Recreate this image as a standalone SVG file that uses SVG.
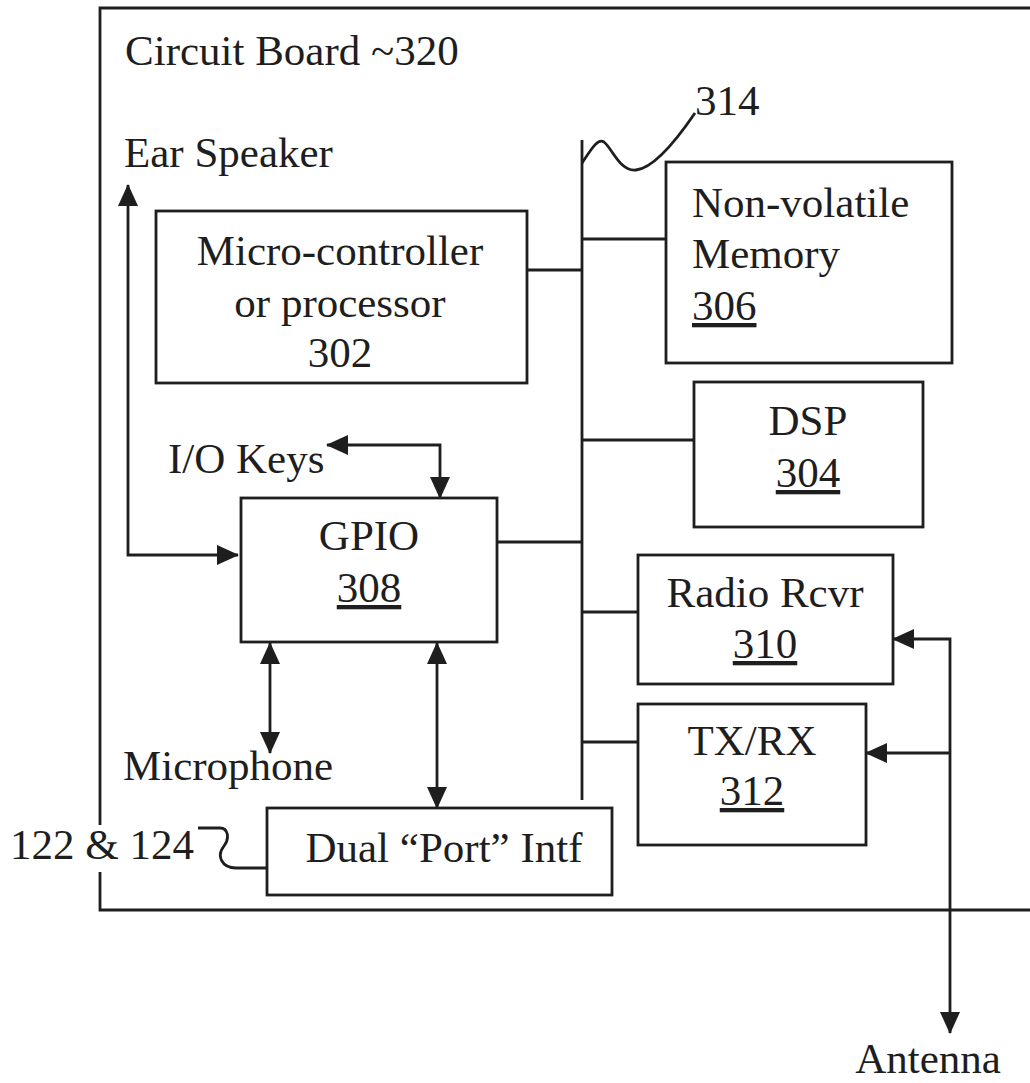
<svg xmlns="http://www.w3.org/2000/svg" width="1030" height="1083" viewBox="0 0 1030 1083">
<style>
text{font-family:"Liberation Serif","Times New Roman",serif;font-size:43px;fill:#1e1e1e}
.box{fill:#fff;stroke:#1e1e1e;stroke-width:2.8}
.ln{fill:none;stroke:#1e1e1e;stroke-width:2.8}
.c{text-anchor:middle}
.u{text-decoration:underline}
</style>
<defs>
<marker id="ah" viewBox="0 0 22 20" markerWidth="22" markerHeight="20" refX="21" refY="10" orient="auto-start-reverse" markerUnits="userSpaceOnUse">
<path d="M0,0 L22,10 L0,20 z" fill="#1e1e1e"/>
</marker>
</defs>
<rect width="1030" height="1083" fill="#fff"/>
<g id="board">
<path class="ln" d="M1035,8 H100 V825 M100,872 V910 H1035"/>
<text x="125" y="65">Circuit Board ~320</text>
</g>
<g id="connectors">
<path class="ln" d="M582,140 V800"/>
<path class="ln" d="M582,163 C592,148 598,138 604,142 C612,148 620,172 636,170 C655,168 680,135 695,113"/>
<path class="ln" d="M527,270 H582"/>
<path class="ln" d="M582,239 H666"/>
<path class="ln" d="M582,440 H694"/>
<path class="ln" d="M497,542 H582"/>
<path class="ln" d="M582,612 H638"/>
<path class="ln" d="M582,742 H638"/>
<path class="ln" d="M238,555 H128 V185" marker-start="url(#ah)" marker-end="url(#ah)"/>
<path class="ln" d="M327,445 H440 V498" marker-start="url(#ah)" marker-end="url(#ah)"/>
<path class="ln" d="M270,643 V753" marker-start="url(#ah)" marker-end="url(#ah)"/>
<path class="ln" d="M437,643 V808" marker-start="url(#ah)" marker-end="url(#ah)"/>
<path class="ln" d="M893,639 H950 V1033" marker-start="url(#ah)" marker-end="url(#ah)"/>
<path class="ln" d="M866,753 H950" marker-start="url(#ah)"/>
<path class="ln" d="M198,828 H220 C228,828 230,838 224,846 C216,856 222,868 236,868 H267"/>
</g>
<g id="label-314"><text x="695" y="115">314</text></g>
<g id="ear-speaker"><text x="124" y="167">Ear Speaker</text></g>
<g id="io-keys"><text x="168" y="473">I/O Keys</text></g>
<g id="microphone"><text x="123" y="780">Microphone</text></g>
<g id="label-122-124"><text x="10" y="859">122 &amp; 124</text></g>
<g id="antenna"><text class="c" x="928" y="1073">Antenna</text></g>
<g id="mcu">
<rect class="box" x="156" y="211" width="371" height="172"/>
<text class="c" x="340" y="265">Micro-controller</text>
<text class="c" x="340" y="317">or processor</text>
<text class="c" x="340" y="367">302</text>
</g>
<g id="nvm">
<rect class="box" x="666" y="162" width="286" height="201"/>
<text x="692" y="217">Non-volatile</text>
<text x="692" y="268">Memory</text>
<text class="u" x="692" y="320">306</text>
</g>
<g id="dsp">
<rect class="box" x="694" y="382" width="229" height="145"/>
<text class="c" x="808" y="435">DSP</text>
<text class="c u" x="808" y="487">304</text>
</g>
<g id="gpio">
<rect class="box" x="241" y="498" width="256" height="144"/>
<text class="c" x="369" y="550">GPIO</text>
<text class="c u" x="369" y="602">308</text>
</g>
<g id="radio">
<rect class="box" x="638" y="555" width="255" height="129"/>
<text class="c" x="765" y="607">Radio Rcvr</text>
<text class="c u" x="765" y="658">310</text>
</g>
<g id="txrx">
<rect class="box" x="638" y="704" width="228" height="141"/>
<text class="c" x="752" y="755">TX/RX</text>
<text class="c u" x="752" y="805">312</text>
</g>
<g id="dual-port">
<rect class="box" x="267" y="808" width="345" height="87"/>
<text class="c" x="444" y="862">Dual “Port” Intf</text>
</g>
</svg>
